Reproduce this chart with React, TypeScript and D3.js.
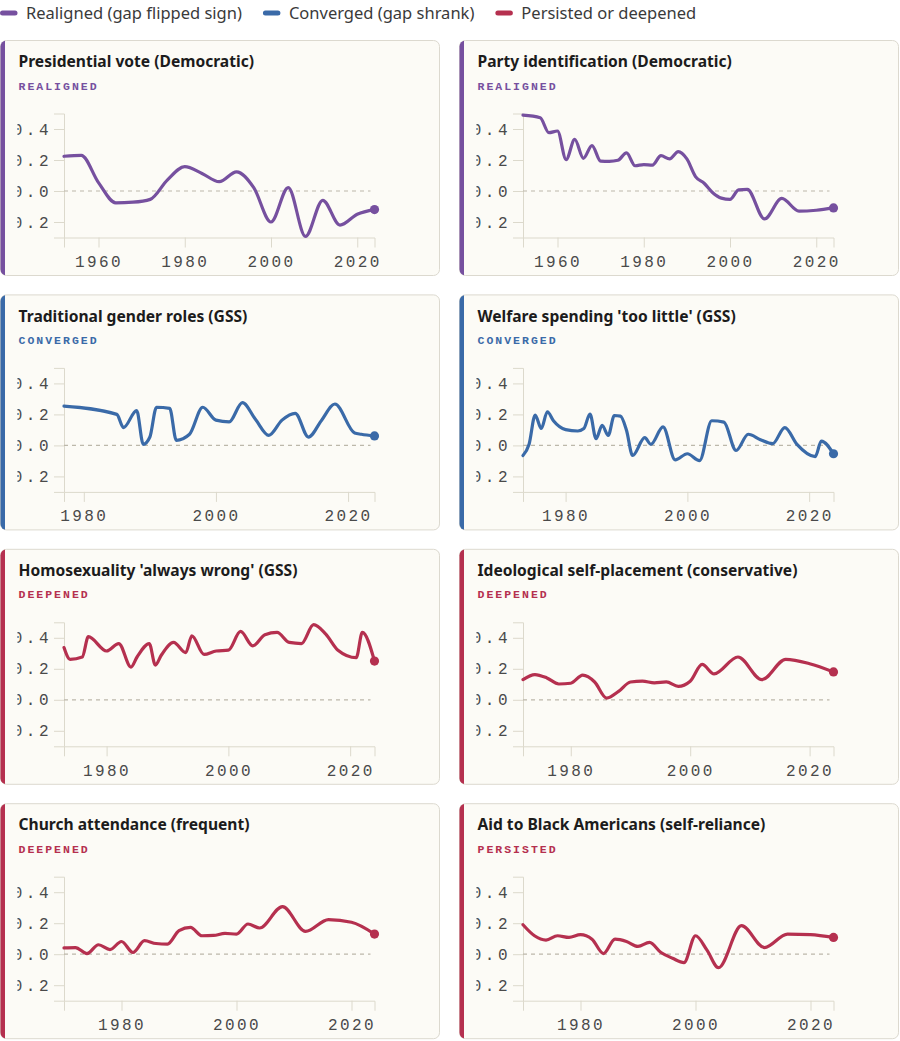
import { useEffect, useRef } from "react";
import * as d3 from "d3";

const W = 900;
const H = 1041;

// legend / trend categories
const trendNames = ["Realigned (gap flipped sign)", "Converged (gap shrank)", "Persisted or deepened"];
const trendColors = ["#76509f", "#3a6aa8", "#b5304f"];

const xTicks = [1960, 1980, 2000, 2020];
const yTicks = [-0.2, 0, 0.2, 0.4];
const yDomain = [-0.3, 0.5];
const lastYear = 2024;

// Presidential vote (Democratic)
const presYears = [1952, 1956, 1960, 1964, 1968, 1972, 1976, 1980, 1984, 1988, 1992, 1996, 2000, 2004, 2008, 2012, 2016, 2020, 2024];
const presGap = [0.224, 0.23, 0.054, -0.076, -0.072, -0.054, 0.072, 0.157, 0.113, 0.06, 0.124, 0.022, -0.2, 0.022, -0.293, -0.06, -0.22, -0.15, -0.12];

// Party identification (Democratic)
const partyYears = [1952, 1956, 1958, 1960, 1962, 1964, 1966, 1968, 1970, 1972, 1974, 1976, 1978, 1980, 1982, 1984, 1986, 1988, 1990, 1992, 1994, 1996, 1998, 2000, 2002, 2004, 2008, 2012, 2016, 2020, 2024];
const partyGap = [0.489, 0.472, 0.376, 0.387, 0.202, 0.333, 0.211, 0.293, 0.193, 0.191, 0.198, 0.246, 0.163, 0.17, 0.167, 0.228, 0.207, 0.254, 0.207, 0.093, 0.05, -0.011, -0.046, -0.054, 0.007, 0.011, -0.18, -0.048, -0.13, -0.124, -0.109];

// Traditional gender roles (GSS)
const genderYears = [1977, 1985, 1986, 1988, 1989, 1990, 1991, 1993, 1994, 1996, 1998, 2000, 2002, 2004, 2006, 2008, 2010, 2012, 2014, 2016, 2018, 2021, 2022, 2024];
const genderGap = [0.254, 0.2, 0.115, 0.224, 0.007, 0.054, 0.246, 0.239, 0.033, 0.072, 0.246, 0.163, 0.152, 0.276, 0.167, 0.065, 0.163, 0.207, 0.054, 0.163, 0.267, 0.08, 0.072, 0.061];

// Welfare spending 'too little' (GSS)
const welfareYears = [1973, 1974, 1975, 1976, 1977, 1978, 1980, 1982, 1983, 1984, 1985, 1986, 1987, 1988, 1989, 1990, 1991, 1993, 1994, 1996, 1998, 2000, 2002, 2004, 2006, 2008, 2010, 2012, 2014, 2016, 2018, 2021, 2022, 2024];
const welfareGap = [-0.065, 0.007, 0.196, 0.109, 0.217, 0.159, 0.102, 0.093, 0.109, 0.202, 0.043, 0.13, 0.065, 0.193, 0.189, 0.098, -0.065, 0.05, 0.007, 0.12, -0.093, -0.054, -0.098, 0.159, 0.15, -0.033, 0.072, 0.037, 0.011, 0.115, 0.007, -0.072, 0.028, -0.054];

// Homosexuality 'always wrong' (GSS)
const homoYears = [1973, 1974, 1976, 1977, 1980, 1982, 1984, 1985, 1987, 1988, 1989, 1991, 1993, 1994, 1996, 1998, 2000, 2002, 2004, 2006, 2008, 2010, 2012, 2014, 2016, 2018, 2021, 2022, 2024];
const homoGap = [0.337, 0.261, 0.276, 0.407, 0.315, 0.363, 0.211, 0.276, 0.363, 0.224, 0.289, 0.37, 0.304, 0.413, 0.293, 0.315, 0.32, 0.441, 0.348, 0.42, 0.435, 0.37, 0.363, 0.485, 0.424, 0.32, 0.272, 0.435, 0.25];

// Ideological self-placement (conservative)
const ideoYears = [1972, 1974, 1976, 1978, 1980, 1982, 1984, 1986, 1988, 1990, 1992, 1994, 1996, 1998, 2000, 2002, 2004, 2008, 2012, 2016, 2020, 2024];
const ideoGap = [0.13, 0.163, 0.141, 0.102, 0.107, 0.159, 0.115, 0.011, 0.054, 0.115, 0.12, 0.109, 0.115, 0.087, 0.12, 0.228, 0.167, 0.276, 0.13, 0.261, 0.233, 0.18];

// Church attendance (frequent)
const churchYears = [1970, 1972, 1974, 1976, 1978, 1980, 1982, 1984, 1986, 1988, 1990, 1992, 1994, 1996, 1998, 2000, 2002, 2004, 2008, 2012, 2016, 2020, 2024];
const churchGap = [0.041, 0.043, 0.004, 0.061, 0.03, 0.082, 0.011, 0.087, 0.069, 0.065, 0.152, 0.173, 0.119, 0.121, 0.134, 0.13, 0.195, 0.169, 0.307, 0.147, 0.223, 0.206, 0.13];

// Aid to Black Americans (self-reliance)
const aidYears = [1970, 1972, 1974, 1976, 1978, 1980, 1982, 1984, 1986, 1988, 1990, 1992, 1994, 1996, 1998, 2000, 2002, 2004, 2008, 2012, 2016, 2020, 2024];
const aidGap = [0.19, 0.119, 0.091, 0.119, 0.108, 0.126, 0.097, 0.004, 0.097, 0.082, 0.05, 0.076, 0.011, -0.026, -0.054, 0.119, 0.026, -0.087, 0.184, 0.043, 0.13, 0.126, 0.108];

const panels = [
  { title: "Presidential vote (Democratic)", status: "REALIGNED", trend: 0, years: presYears, gap: presGap },
  { title: "Party identification (Democratic)", status: "REALIGNED", trend: 0, years: partyYears, gap: partyGap },
  { title: "Traditional gender roles (GSS)", status: "CONVERGED", trend: 1, years: genderYears, gap: genderGap },
  { title: "Welfare spending 'too little' (GSS)", status: "CONVERGED", trend: 1, years: welfareYears, gap: welfareGap },
  { title: "Homosexuality 'always wrong' (GSS)", status: "DEEPENED", trend: 2, years: homoYears, gap: homoGap },
  { title: "Ideological self-placement (conservative)", status: "DEEPENED", trend: 2, years: ideoYears, gap: ideoGap },
  { title: "Church attendance (frequent)", status: "DEEPENED", trend: 2, years: churchYears, gap: churchGap },
  { title: "Aid to Black Americans (self-reliance)", status: "PERSISTED", trend: 2, years: aidYears, gap: aidGap },
];

const SANS = "'Noto Sans', 'Open Sans', sans-serif";
const MONO = "'Liberation Mono', 'DejaVu Sans Mono', monospace";

export default function App() {
  const svgRef = useRef<SVGSVGElement>(null);

  useEffect(() => {
    const el = svgRef.current;
    if (!el) return;
    d3.select(el).selectAll("*").remove();
    const svg = d3.select(el);
    const defs = svg.append("defs");

    // Legend row
    const legend = svg.append("g").attr("transform", "translate(0,13)");
    let lx = 0;
    trendNames.forEach((name, i) => {
      legend.append("line")
        .attr("x1", lx + 2.5).attr("x2", lx + 15)
        .attr("stroke", trendColors[i]).attr("stroke-width", 5).attr("stroke-linecap", "round");
      const t = legend.append("text")
        .attr("x", lx + 26).attr("dy", "0.35em")
        .attr("font-family", SANS).attr("font-size", 16.5).attr("fill", "#3a3a3a")
        .text(name);
      lx += 26 + (t.node() as SVGTextElement).getComputedTextLength() + 21;
    });

    // Card grid
    const cardW = 439;
    const cardH = 235;
    const colX = [0.5, 459.5];
    const rowY = (r: number) => 40.5 + r * 254.4;
    const m = { left: 63.5, right: 65, top: 73, bottom: 38 };

    panels.forEach((p, i) => {
      const color = trendColors[p.trend];
      const g = svg.append("g")
        .attr("transform", `translate(${colX[i % 2]},${rowY(Math.floor(i / 2))})`);

      const cardClip = `card-clip-${i}`;
      defs.append("clipPath").attr("id", cardClip)
        .append("rect").attr("width", cardW).attr("height", cardH).attr("rx", 6);
      const plotClip = `plot-clip-${i}`;
      defs.append("clipPath").attr("id", plotClip)
        .append("rect").attr("x", 17).attr("width", cardW - 17).attr("height", cardH);

      g.append("rect").attr("width", cardW).attr("height", cardH).attr("rx", 6)
        .attr("fill", "#fcfbf6").attr("stroke", "#dcd9cf").attr("stroke-width", 1);
      g.append("rect").attr("x", -1).attr("width", 5.5).attr("height", cardH)
        .attr("fill", color).attr("clip-path", `url(#${cardClip})`);

      g.append("text").attr("x", 18).attr("y", 26.7)
        .attr("font-family", SANS).attr("font-weight", 700).attr("font-size", 15.6).attr("fill", "#1c1c1c")
        .text(p.title);
      g.append("text").attr("x", 18).attr("y", 49)
        .attr("font-family", MONO).attr("font-weight", 700).attr("font-size", 11.5)
        .attr("letter-spacing", 2).attr("fill", color)
        .text(p.status);

      const x = d3.scaleLinear()
        .domain([p.years[0], lastYear])
        .range([m.left, cardW - m.right]);
      const y = d3.scaleLinear().domain(yDomain).range([cardH - m.bottom, m.top]);

      const plot = g.append("g").attr("clip-path", `url(#${plotClip})`);

      const styleAxis = (ax: any, spacing: number) => {
        ax.attr("font-family", MONO).attr("font-size", 16);
        ax.select(".domain").attr("stroke", "#dcd9cc");
        ax.selectAll(".tick line").attr("stroke", "#dcd9cc");
        ax.selectAll("text").attr("fill", "#4a4a4a").attr("letter-spacing", spacing);
      };

      plot.append("g")
        .attr("transform", `translate(${m.left},0)`)
        .call(d3.axisLeft(y).tickValues(yTicks).tickSize(10).tickPadding(2).tickFormat(d3.format(".1f")))
        .call(styleAxis, 3.5);

      plot.append("g")
        .attr("transform", `translate(0,${cardH - m.bottom})`)
        .call(d3.axisBottom(x)
          .tickValues(xTicks.filter(t => t >= p.years[0]))
          .tickSize(10).tickPadding(8).tickFormat(d3.format("d")))
        .call(styleAxis, 2.4);

      // zero reference
      plot.append("line")
        .attr("x1", x.range()[0]).attr("x2", x.range()[1] - 4)
        .attr("y1", y(0)).attr("y2", y(0))
        .attr("stroke", "#bcb8aa").attr("stroke-width", 1.2).attr("stroke-dasharray", "4,4");

      const line = d3.line<number>()
        .x((_, j) => x(p.years[j]))
        .y(d => y(d))
        .curve(d3.curveMonotoneX);
      plot.append("path").datum(p.gap)
        .attr("fill", "none").attr("stroke", color).attr("stroke-width", 3.2)
        .attr("stroke-linejoin", "round").attr("stroke-linecap", "round")
        .attr("d", line);

      const n = p.gap.length - 1;
      plot.append("circle")
        .attr("cx", x(p.years[n])).attr("cy", y(p.gap[n])).attr("r", 4.6)
        .attr("fill", color);
    });
  }, []);

  return (
    <svg
      ref={svgRef}
      width={W}
      height={H}
      style={{ position: "absolute", left: 0, top: 0, background: "#ffffff" }}
    />
  );
}
